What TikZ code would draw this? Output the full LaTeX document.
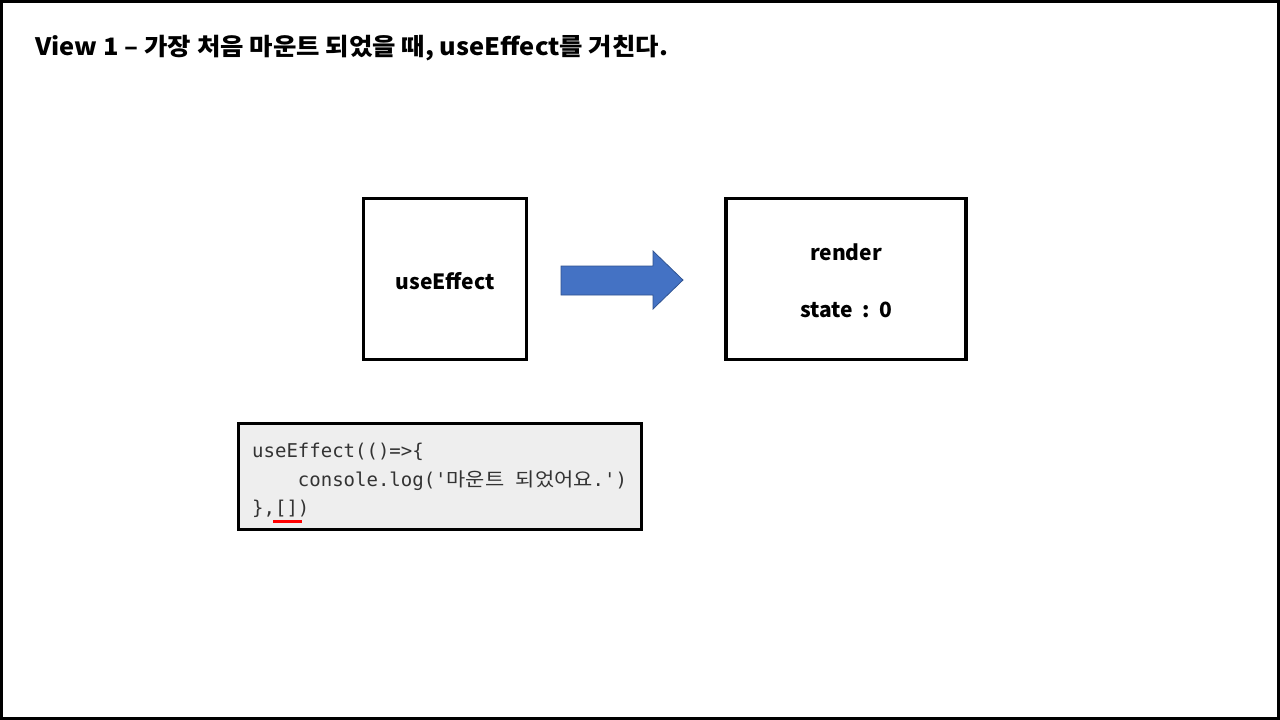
\documentclass[tikz,border=0pt]{standalone}
\usepackage{fontspec}
\setmainfont{Noto Sans CJK KR}
\setmonofont{DejaVu Sans Mono}
\newfontfamily\krmono[FakeStretch=1.1]{Noto Sans CJK KR}
\newfontfamily\titlefont[FakeStretch=1.06]{Noto Sans CJK KR}
\definecolor{arrowblue}{RGB}{68,114,196}
\definecolor{arrowedge}{RGB}{47,82,143}
\definecolor{codebg}{RGB}{238,238,238}

\begin{document}
\begin{tikzpicture}[x=1pt, y=-1pt,
    box/.style={draw=black, line width=3.5pt, minimum height=161pt},
    label/.style={font=\fontsize{21}{25}\selectfont\bfseries, inner sep=0pt, anchor=base},
    code/.style={font=\ttfamily\fontsize{19}{24}\selectfont, text=black!80, inner sep=0pt, anchor=base west}]
% Draw page frame
\fill[white] (0,0) rectangle (1280,720);
\draw[line width=3pt] (1.5,1.5) rectangle (1278.5,718.5);
% Draw title
\node[font=\titlefont\fontsize{24}{28}\selectfont\bfseries, inner sep=0pt, anchor=base west] (title) at (35,55)
    {View 1 – 가장 처음 마운트 되었을 때, useEffect를 거친다.};
% Draw boxes
\node[box, minimum width=163pt] (effect) at (445,279) {};
\node[label] (effectlbl) at (445,289) {useEffect};
\node[box, minimum width=240pt] (render) at (846,279) {};
\node[label] (renderlbl) at (846,260) {render};
\node[label] (statelbl) at (846,317) {state\hspace{9.5pt}:\hspace{9.5pt}0};
% Draw block arrow
\draw[fill=arrowblue, draw=arrowedge, line width=0.75pt]
    (561,266) -- (653,266) -- (653,251) -- (683,280) -- (653,309) -- (653,295) -- (561,295) -- cycle;
% Draw code box
\draw[fill=codebg, line width=3pt] (238,423) rectangle (641,529);
\node[code] (code1) at (252,457) {useEffect(()=>\{};
\node[code] (code2) at (252,486) {\ \ \ \ console.log('{\krmono 마운트} {\krmono 되었어요}.')};
\node[code] (code3) at (252,514) {\},[])};
% Draw underline
\draw[red, line width=2.5pt] (273,521.5) -- (302,521.5);
\end{tikzpicture}
\end{document}
